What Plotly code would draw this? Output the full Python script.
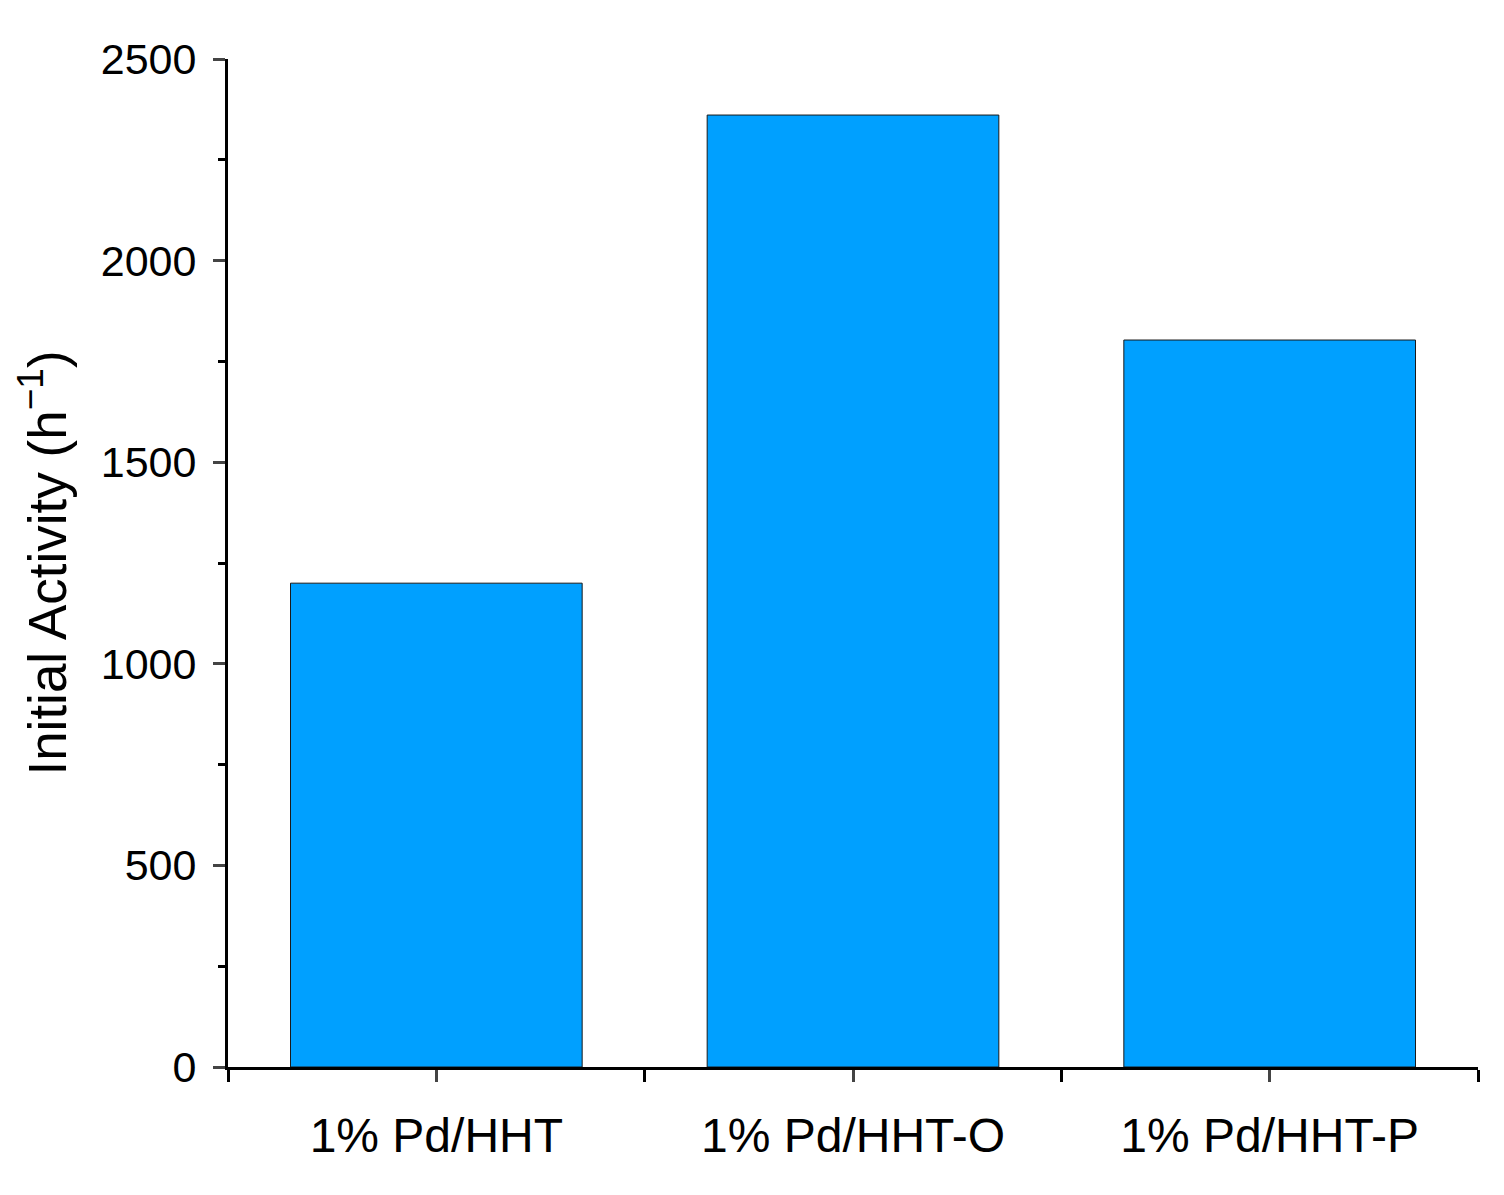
import plotly.graph_objects as go

categories = ["1% Pd/HHT", "1% Pd/HHT-O", "1% Pd/HHT-P"]
values = [1200, 2361, 1803]

fig = go.Figure(go.Bar(
    x=list(range(len(categories))), y=values, width=0.7,
    marker=dict(color="#00A0FF", line=dict(color="#1a1a1a", width=1)),
))
fnt = "Liberation Sans, Arial, sans-serif"
fig.update_layout(
    width=1504, height=1195, plot_bgcolor="white", paper_bgcolor="white",
    margin=dict(l=220, r=34, t=51, b=136), showlegend=False,
    font=dict(family=fnt, color="black"),
)
fig.update_xaxes(
    range=[-0.5, 2.5], tickvals=[0, 1, 2], ticktext=categories,
    tickfont=dict(size=48), ticks="outside", ticklen=12, tickwidth=3,
    ticklabelstandoff=12,
    showline=True, linewidth=3, linecolor="black", showgrid=False, zeroline=False,
    minor=dict(tickvals=[-0.5, 0.5, 1.5, 2.5], ticks="outside", ticklen=12, tickwidth=3, tickcolor="black"),
)
fig.update_yaxes(
    range=[0, 2500], dtick=500, tickfont=dict(size=43),
    ticks="outside", ticklen=12, tickwidth=3, ticklabelstandoff=8,
    showline=True, linewidth=3, linecolor="black", showgrid=False, zeroline=False,
    minor=dict(dtick=250, ticks="outside", ticklen=7, tickwidth=3, tickcolor="black"),
    title=dict(text="Initial Activity (h<sup>−1</sup>)", font=dict(size=53), standoff=18),
)
fig.write_html("out.html")
